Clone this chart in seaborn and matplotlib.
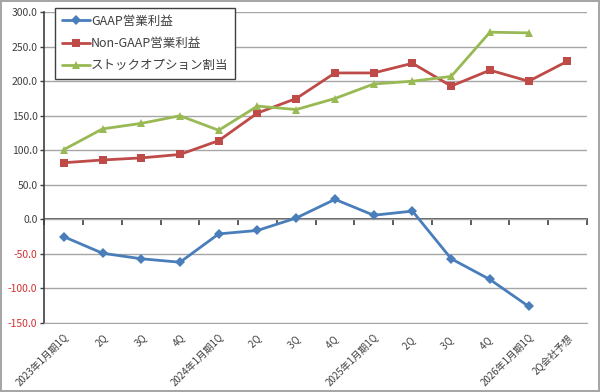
import pandas as pd
import numpy as np
import matplotlib.pyplot as plt
from matplotlib.ticker import FixedLocator
import seaborn as sns

# 四半期ラベル
periods = ['2023年1月期1Q', '2Q', '3Q', '4Q',
           '2024年1月期1Q', '2Q ', '3Q ', '4Q ',
           '2025年1月期1Q', '2Q  ', '3Q  ', '4Q  ',
           '2026年1月期1Q', '2Q会社予想']

gaap = [-25, -49, -57, -62, -21, -16, 2, 29, 6, 12, -57, -87, -126, np.nan]
non_gaap = [82, 86, 89, 94, 114, 154, 175, 212, 212, 226, 193, 216, 200, 229]
stock_option = [101, 131, 139, 150, 129, 164, 159, 175, 196, 200, 207, 271, 270, np.nan]

series_names = ['GAAP営業利益', 'Non-GAAP営業利益', 'ストックオプション割当']
colors = ['#4A7EBB', '#BE4B48', '#98B954']
markers = ['D', 's', '^']
y_ticks = np.arange(-150, 301, 50)

df = pd.DataFrame({
    'period': periods * 3,
    'value': gaap + non_gaap + stock_option,
    'series': np.repeat(series_names, len(periods)),
})

sns.set_style('white')
plt.rcParams['font.family'] = ['Noto Sans CJK JP', 'DejaVu Sans']

fig = plt.figure(figsize=(6, 3.92), dpi=100, linewidth=1.5, edgecolor='#A6A6A6')
ax = fig.add_axes([0.074, 0.176, 0.904, 0.793])

sns.lineplot(data=df, x='period', y='value', hue='series', style='series',
             hue_order=series_names, style_order=series_names,
             palette=colors, markers=markers, dashes=False, sort=False,
             linewidth=2, markersize=5.5, markeredgewidth=0, ax=ax)

ax.set_yticks(y_ticks)
ax.set_yticklabels([f'{v:.1f}' for v in y_ticks])
ax.set_xlim(-0.5, 13.5)
ax.set_ylim(-150, 300)
ax.yaxis.grid(True, color='#A6A6A6', linewidth=1)
ax.set_axisbelow(True)
ax.set_xlabel('')
ax.set_ylabel('')

for s in ['top', 'right']:
    ax.spines[s].set_visible(False)
ax.spines['bottom'].set_color('#A6A6A6')
ax.spines['left'].set_color('#404040')
ax.spines['left'].set_linewidth(1.2)

ax.tick_params(axis='y', left=True, length=3, width=1, color='#404040',
               labelsize=7.5, pad=2)
for lab, v in zip(ax.get_yticklabels(), y_ticks):
    lab.set_color('#D03030' if v < 0 else '#404040')

ax.tick_params(axis='x', bottom=False, labelsize=7, pad=3, labelcolor='#404040')
plt.setp(ax.get_xticklabels(), rotation=45, ha='right', rotation_mode='anchor')

# 0の位置の横軸
sec = ax.secondary_xaxis(1 / 3)
sec.xaxis.set_major_locator(FixedLocator(np.arange(-0.5, 14, 1)))
sec.tick_params(axis='x', direction='out', length=4, width=1.2, color='#404040',
                labelbottom=False, labeltop=False)
sec.spines['bottom'].set_color('#404040')
sec.spines['bottom'].set_linewidth(1.2)

handles, labels = ax.get_legend_handles_labels()
leg = ax.legend(handles, labels, loc='upper left',
                bbox_to_anchor=(0.092, 0.98), bbox_transform=fig.transFigure,
                fontsize=9, frameon=True, fancybox=False, edgecolor='#404040',
                framealpha=1, labelspacing=0.75, handlelength=2.2,
                handletextpad=0.1, borderpad=0.55, borderaxespad=0)
leg.get_frame().set_linewidth(1)
for t in leg.get_texts():
    t.set_color('#404040')

plt.savefig('out.png', dpi=100)
plt.close()
